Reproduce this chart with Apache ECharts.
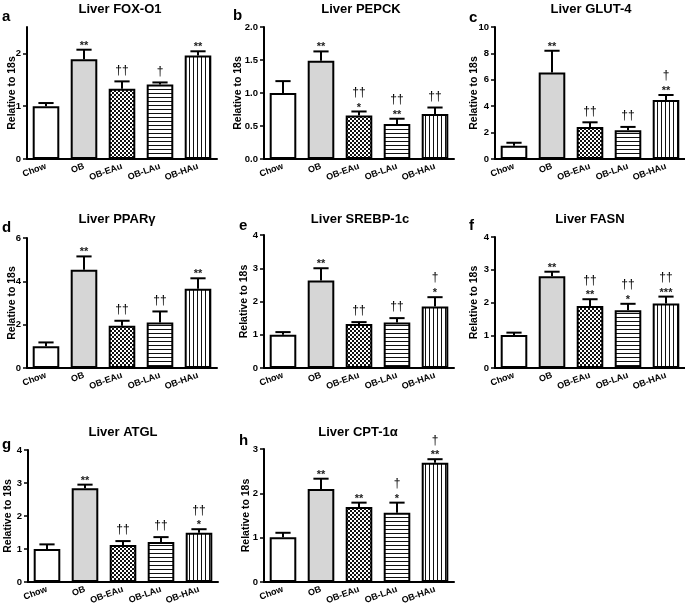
<!DOCTYPE html>
<html>
<head>
<meta charset="utf-8">
<script src="https://cdn.jsdelivr.net/npm/echarts@6/dist/echarts.min.js"></script>
<style>
  html, body { margin: 0; padding: 0; background: #fff; }
  #main { width: 685px; height: 615px; }
</style>
</head>
<body>
<div id="main"></div>
<script>
const groups = ['Chow', 'OB', 'OB-EAu', 'OB-LAu', 'OB-HAu']

// a - FOX-O1
const foxo1Mean = [1.0, 1.89, 1.33, 1.41, 1.96]
const foxo1Sem = [0.06, 0.18, 0.14, 0.04, 0.08]
const foxo1Star = ['', '**', '', '', '**']
const foxo1Dag = ['', '', '††', '†', '']
const foxo1Ticks = [0, 1, 2]
// b - PEPCK
const pepckMean = [1.0, 1.49, 0.66, 0.53, 0.68]
const pepckSem = [0.18, 0.14, 0.06, 0.08, 0.10]
const pepckStar = ['', '**', '*', '**', '']
const pepckDag = ['', '', '††', '††', '††']
const pepckTicks = [0, 0.5, 1, 1.5, 2]
// c - GLUT-4
const glut4Mean = [1.01, 6.55, 2.43, 2.18, 4.47]
const glut4Sem = [0.22, 1.65, 0.35, 0.25, 0.38]
const glut4Star = ['', '**', '', '', '**']
const glut4Dag = ['', '', '††', '††', '†']
const glut4Ticks = [0, 2, 4, 6, 8, 10]
// d - PPARγ
const ppargMean = [1.0, 4.54, 1.95, 2.1, 3.66]
const ppargSem = [0.18, 0.61, 0.23, 0.51, 0.48]
const ppargStar = ['', '**', '', '', '**']
const ppargDag = ['', '', '††', '††', '']
const ppargTicks = [0, 2, 4, 6]
// e - SREBP-1c
const srebpMean = [1.0, 2.63, 1.32, 1.37, 1.85]
const srebpSem = [0.08, 0.37, 0.06, 0.13, 0.28]
const srebpStar = ['', '**', '', '', '*']
const srebpDag = ['', '', '††', '††', '†']
const srebpTicks = [0, 1, 2, 3, 4]
// f - FASN
const fasnMean = [1.01, 2.8, 1.89, 1.76, 1.97]
const fasnSem = [0.07, 0.14, 0.21, 0.2, 0.21]
const fasnStar = ['', '**', '**', '*', '***']
const fasnDag = ['', '', '††', '††', '††']
const fasnTicks = [0, 1, 2, 3, 4]
// g - ATGL
const atglMean = [1.0, 2.84, 1.12, 1.21, 1.49]
const atglSem = [0.14, 0.11, 0.12, 0.15, 0.11]
const atglStar = ['', '**', '', '', '*']
const atglDag = ['', '', '††', '††', '††']
const atglTicks = [0, 1, 2, 3, 4]
// h - CPT-1α
const cptMean = [1.01, 2.1, 1.69, 1.56, 2.69]
const cptSem = [0.1, 0.23, 0.1, 0.23, 0.08]
const cptStar = ['', '**', '**', '*', '**']
const cptDag = ['', '', '', '†', '†']
const cptTicks = [0, 1, 2, 3]

const FONT = '"Liberation Sans", Arial, sans-serif'

function makePattern(kind) {
  const c = document.createElement('canvas')
  c.width = 4
  c.height = 4
  const ctx = c.getContext('2d')
  ctx.fillStyle = '#fff'
  ctx.fillRect(0, 0, 4, 4)
  ctx.fillStyle = '#111'
  if (kind === 'checker') {
    ctx.fillRect(0, 0, 2, 2)
    ctx.fillRect(2, 2, 2, 2)
  } else if (kind === 'h') {
    ctx.fillRect(0, 1, 4, 1)
  } else {
    ctx.fillRect(1, 0, 1, 4)
  }
  return { image: c, repeat: 'repeat' }
}
const fills = ['#ffffff', '#d6d6d6', makePattern('checker'), makePattern('h'), makePattern('v')]

const panels = [
  { letter: 'a', title: 'Liver FOX-O1', mean: foxo1Mean, sem: foxo1Sem, star: foxo1Star, dag: foxo1Dag, ticks: foxo1Ticks, max: 2.5 },
  { letter: 'b', title: 'Liver PEPCK', mean: pepckMean, sem: pepckSem, star: pepckStar, dag: pepckDag, ticks: pepckTicks, max: 2, dec: 1 },
  { letter: 'c', title: 'Liver GLUT-4', mean: glut4Mean, sem: glut4Sem, star: glut4Star, dag: glut4Dag, ticks: glut4Ticks, max: 10 },
  { letter: 'd', title: 'Liver PPARγ', mean: ppargMean, sem: ppargSem, star: ppargStar, dag: ppargDag, ticks: ppargTicks, max: 6 },
  { letter: 'e', title: 'Liver SREBP-1c', mean: srebpMean, sem: srebpSem, star: srebpStar, dag: srebpDag, ticks: srebpTicks, max: 4 },
  { letter: 'f', title: 'Liver FASN', mean: fasnMean, sem: fasnSem, star: fasnStar, dag: fasnDag, ticks: fasnTicks, max: 4 },
  { letter: 'g', title: 'Liver ATGL', mean: atglMean, sem: atglSem, star: atglStar, dag: atglDag, ticks: atglTicks, max: 4 },
  { letter: 'h', title: 'Liver CPT-1α', mean: cptMean, sem: cptSem, star: cptStar, dag: cptDag, ticks: cptTicks, max: 3 }
]

// layout: grid box, title centre, letter pos, y-name x
const layout = [
  { left: 27, top: 27, bottom: 159, tx: 120, ty: 9, lx: 2, ly: 17, nx: 12 },
  { left: 264, top: 27, bottom: 159, tx: 361, ty: 9, lx: 233, ly: 16, nx: 238 },
  { left: 495, top: 27, bottom: 159, tx: 591, ty: 9, lx: 469, ly: 18, nx: 474 },
  { left: 27, top: 238, bottom: 368, tx: 117, ty: 219, lx: 2, ly: 228, nx: 12 },
  { left: 264, top: 235, bottom: 368, tx: 360, ty: 219, lx: 239, ly: 226, nx: 244 },
  { left: 495, top: 237, bottom: 368, tx: 590, ty: 219, lx: 469, ly: 226, nx: 474 },
  { left: 28, top: 450, bottom: 582, tx: 123, ty: 432, lx: 2, ly: 445, nx: 8 },
  { left: 264, top: 449, bottom: 582, tx: 358, ty: 432, lx: 239, ly: 441, nx: 246 }
]

const chart = echarts.init(document.getElementById('main'), null, { renderer: 'canvas' })

const grid = [], xAxis = [], yAxis = [], series = [], graphic = []

panels.forEach((p, i) => {
  const L = layout[i]
  grid.push({ left: L.left, top: L.top, width: 190, height: L.bottom - L.top })
  xAxis.push({
    gridIndex: i,
    type: 'category',
    data: groups,
    axisLine: { lineStyle: { color: '#000', width: 2 } },
    axisTick: { alignWithLabel: true, length: 4, lineStyle: { color: '#000', width: 1.5 } },
    axisLabel: { interval: 0, rotate: 20, margin: 7, color: '#000', fontWeight: 'bold', fontSize: 9, fontFamily: FONT }
  })
  yAxis.push({
    gridIndex: i,
    type: 'value',
    min: 0,
    max: p.max,
    splitLine: { show: false },
    axisLine: { show: true, lineStyle: { color: '#000', width: 2 } },
    axisTick: { show: true, length: 4, customValues: p.ticks, lineStyle: { color: '#000', width: 1.5 } },
    axisLabel: {
      customValues: p.ticks,
      margin: 6,
      color: '#000',
      fontWeight: 'bold',
      fontSize: 9.5,
      fontFamily: FONT,
      formatter: v => p.dec ? v.toFixed(p.dec) : String(v)
    }
  })
  series.push({
    type: 'bar',
    xAxisIndex: i,
    yAxisIndex: i,
    barWidth: '70%',
    silent: true,
    itemStyle: { borderColor: '#000', borderWidth: 2 },
    data: p.mean.map((v, j) => ({ value: v, itemStyle: { color: fills[j] } }))
  })
  // error bars (upper only) + significance marks
  series.push({
    type: 'custom',
    xAxisIndex: i,
    yAxisIndex: i,
    silent: true,
    z: 3,
    data: p.mean.map((v, j) => [j, v, v + p.sem[j]]),
    renderItem: (params, api) => {
      const j = api.value(0)
      const p0 = api.coord([j, api.value(1)])
      const p1 = api.coord([j, api.value(2)])
      const half = api.size([1, 0])[0] * 0.2
      const kids = [
        { type: 'line', shape: { x1: p0[0], y1: p0[1], x2: p1[0], y2: p1[1] }, style: { stroke: '#000', lineWidth: 2 } },
        { type: 'line', shape: { x1: p1[0] - half, y1: p1[1], x2: p1[0] + half, y2: p1[1] }, style: { stroke: '#000', lineWidth: 2 } }
      ]
      const st = p.star[params.dataIndex]
      const dg = p.dag[params.dataIndex]
      if (st) {
        kids.push({ type: 'text', x: p1[0], y: p1[1] - 4, style: { text: st, align: 'center', verticalAlign: 'middle', font: 'bold 11px ' + FONT, fill: '#222' } })
      }
      if (dg) {
        kids.push({ type: 'text', x: p1[0], y: p1[1] - (st ? 19 : 11), style: { text: dg, align: 'center', verticalAlign: 'middle', font: '12px ' + FONT, fill: '#000' } })
      }
      return { type: 'group', children: kids }
    }
  })
  graphic.push({ type: 'text', x: L.tx, y: L.ty, style: { text: p.title, align: 'center', verticalAlign: 'middle', font: 'bold 13px ' + FONT, fill: '#000' } })
  graphic.push({ type: 'text', x: L.lx, y: L.ly, style: { text: p.letter, align: 'left', verticalAlign: 'middle', font: 'bold 15px ' + FONT, fill: '#000' } })
  graphic.push({
    type: 'text', x: L.nx, y: (L.top + L.bottom) / 2, rotation: Math.PI / 2,
    style: { text: 'Relative to 18s', align: 'center', verticalAlign: 'middle', font: 'bold 10.5px ' + FONT, fill: '#000' }
  })
})

chart.setOption({
  animation: false,
  backgroundColor: '#fff',
  grid,
  xAxis,
  yAxis,
  series,
  graphic
})
</script>
</body>
</html>
